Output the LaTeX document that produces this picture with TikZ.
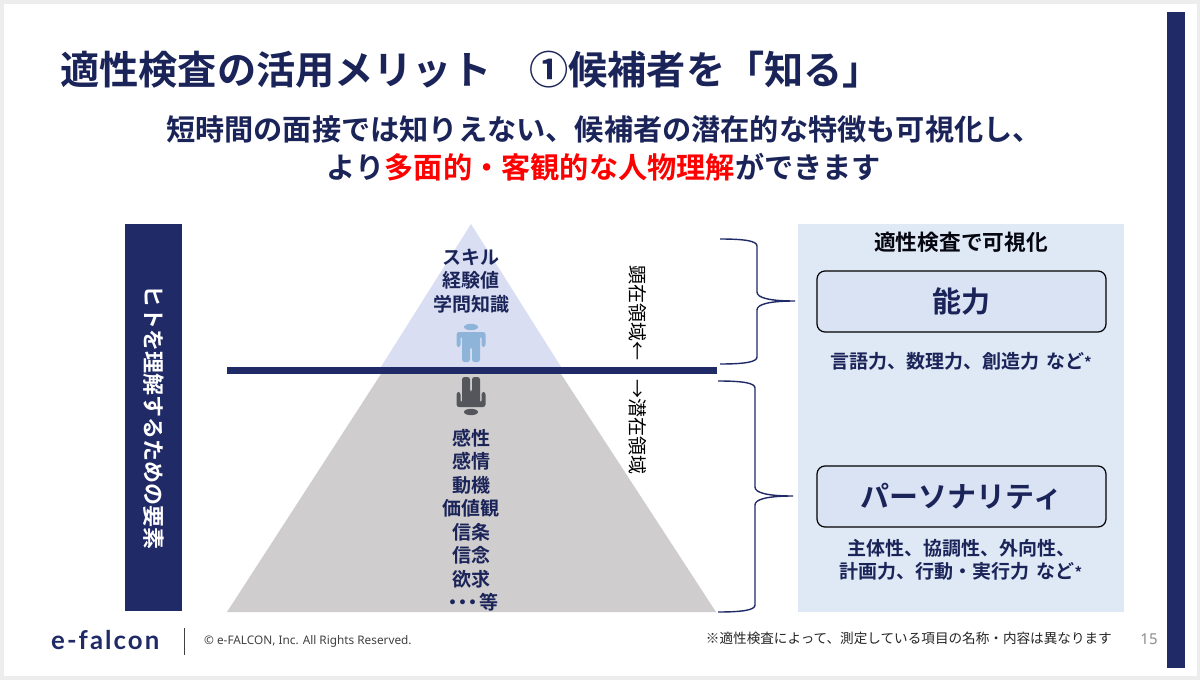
\documentclass[tikz,border=0pt]{standalone}
\usepackage{fontspec}
\setmainfont{Noto Sans CJK JP}[BoldFont={Noto Sans CJK JP Bold}]
\newfontfamily\logofont{Lato}
\newfontfamily\copyfont{Noto Sans}
\usetikzlibrary{positioning}

\definecolor{navy}{HTML}{1F2A66}
\definecolor{navytext}{HTML}{1B2459}
\definecolor{panelblue}{HTML}{DEE9F5}
\definecolor{boxblue}{HTML}{DAE3F3}
\definecolor{topblue}{HTML}{D9DEF2}
\definecolor{undergray}{HTML}{CFCDCE}
\definecolor{pageframe}{HTML}{EDEDED}
\definecolor{personblue}{HTML}{8FB4D9}
\definecolor{persondark}{HTML}{54565C}

\newcommand{\fsz}[2]{\fontsize{#1}{#2}\selectfont}
\newcommand{\smallstar}{{\fontsize{15}{15}\selectfont *}}

\tikzset{
  person/.pic={
    \fill (0,-3) ellipse (7 and 3.2);
    \fill[rounded corners=2.5] (-14.5,2) -- (14.5,2) -- (14.5,17) -- (10.5,17) -- (10.5,6)
      -- (9,6) -- (9,32) -- (1,32) -- (1,17) -- (-1,17) -- (-1,32) -- (-9,32) -- (-9,6)
      -- (-10.5,6) -- (-10.5,17) -- (-14.5,17) -- cycle;
  }
}

\begin{document}
\begin{tikzpicture}[x=1pt,y=-1pt,
                    bold label/.style={font=\bfseries\fsz{19}{23.5},text=navytext,align=center,inner sep=0pt},
                    small label/.style={font=\bfseries\fsz{19}{23},text=navytext,align=center,inner sep=0pt},
                    side label/.style={font=\fsz{19}{20},text=black,rotate=-90,inner sep=0pt},
                    trait box/.style={draw=black,line width=1.2pt,fill=boxblue,rounded corners=8pt,minimum width=289pt,
                      minimum height=61pt,font=\bfseries\fsz{29}{32},text=navytext,inner sep=0pt},
                    brace line/.style={draw=navy,line width=1.4pt}]

  % slide
  \useasboundingbox (0,0) rectangle (1200,680);
  \fill[pageframe] (0,0) rectangle (1200,680);
  \fill[white] (4,4) rectangle (1197,676);
  \fill[navy] (1167,12) rectangle (1185,668);

  % title
  \node[anchor=west,inner sep=0pt,font=\bfseries\fsz{39.2}{44},text=navytext] (title) at (60,70)
    {適性検査の活用メリット\hspace{38pt}①候補者を「知る」};
  \node[inner sep=0pt,align=center,font=\bfseries\fsz{29.2}{38},text=navytext] (subtitle) at (604,148)
    {短時間の面接では知りえない、候補者の潜在的な特徴も可視化し、\\
     より\textcolor{red}{多面的・客観的な人物理解}ができます};

  % left bar
  \fill[navy] (125,224) rectangle (182,611);
  \node[rotate=-90,inner sep=0pt,font=\bfseries\fsz{22}{24},text=white] (barlabel) at (153.5,417)
    {ヒトを理解するための要素};

  % pyramid
  \fill[topblue] (471,224) -- (563,370) -- (379,370) -- cycle;
  \fill[undergray] (381,374) -- (561,374) -- (716,612) -- (227,612) -- cycle;
  \fill[navy] (227,367) rectangle (717,374);

  \path (471,330) pic[personblue] {person};
  \path (471,409) pic[persondark,yscale=-1] {person};

  \node[bold label] (upper) at (471,281) {スキル\\経験値\\学問知識};
  \node[bold label] (lower) at (471,520)
    {感性\\感情\\動機\\価値観\\信条\\信念\\欲求\\・\hspace{-9pt}・\hspace{-9pt}・\hspace{-3pt}等};

  \node[side label] (visible) at (638,313) {顕在領域←};
  \node[side label] (hidden) at (638,427) {→潜在領域};

  % braces
  \path[brace line] (720,239) .. controls (745,239) and (757,241) .. (757,246)
    -- (757,292) .. controls (757,298) and (770,301) .. (795,301)
    .. controls (770,301) and (757,304) .. (757,310)
    -- (757,357) .. controls (757,362) and (745,364) .. (720,364);
  \path[brace line] (718,381) .. controls (743,381) and (755,383) .. (755,388)
    -- (755,487) .. controls (755,493) and (768,496) .. (793,496)
    .. controls (768,496) and (755,499) .. (755,505)
    -- (755,605) .. controls (755,610) and (743,612) .. (718,612);

  % right panel
  \fill[panelblue] (798,224) rectangle (1124,612);
  \node[bold label,font=\bfseries\fsz{21.7}{24},text=black!85!navy] (paneltitle) at (961,242) {適性検査で可視化};
  \node[trait box] (ability) at (961.5,301.5) {\raisebox{2pt}{能力}};
  \node[trait box] (personality) at (961.5,496.5) {\raisebox{3pt}{パーソナリティ}};
  \node[small label] (abilitynote) at (961,361) {言語力、数理力、創造力\hspace{7pt}など\smallstar};
  \node[small label] (personalitynote) at (961,559.5) {主体性、協調性、外向性、\\計画力、行動・実行力\hspace{7pt}など\smallstar};

  % footer
  \node[anchor=west,inner sep=0pt,font=\logofont\bfseries\fsz{25.8}{28},text=navy] (logo) at (51,640)
    {\addfontfeature{LetterSpace=8}e-falcon};
  \coordinate (ruletop) at (184,628);
  \coordinate (rulebottom) at (184,655);
  \draw[line width=0.8pt,black!75] (ruletop) -- (rulebottom);
  \node[anchor=west,inner sep=0pt,font=\copyfont\fsz{11.8}{14},text=black!75] (copyright) at (204,641)
    {© e-FALCON, Inc. All Rights Reserved.};
  \node[anchor=east,inner sep=0pt,font=\fsz{13.6}{15},text=black!85] (footnote) at (1112,638)
    {※適性検査によって、測定している項目の名称・内容は異なります};
  \node[inner sep=0pt,font=\copyfont\fsz{15}{17},text=black!45] (pagenum) at (1149,639) {15};

\end{tikzpicture}
\end{document}
